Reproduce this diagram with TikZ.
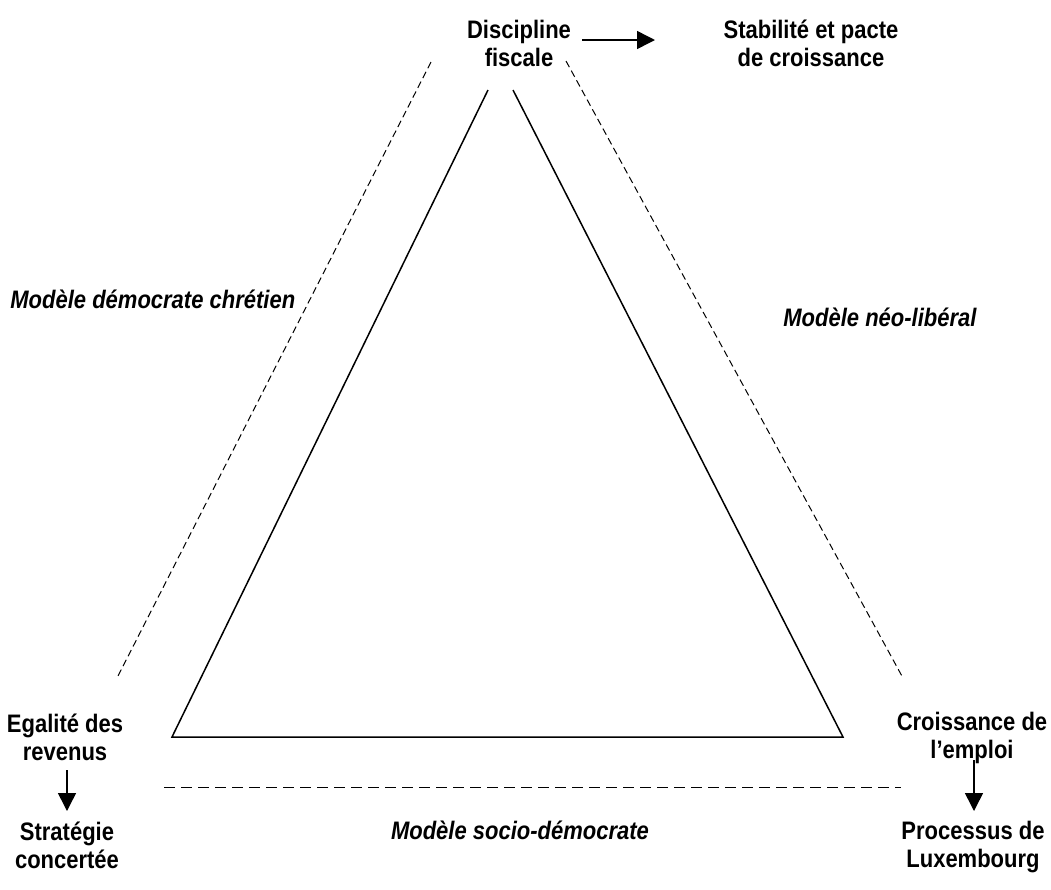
\documentclass[tikz,border=0pt]{standalone}
\usepackage{graphicx}
\usepackage{fontspec}
\setmainfont{Liberation Sans}
\usetikzlibrary{arrows.meta}
\newcommand\stx[1]{\scalebox{1}[1.15]{\begin{tabular}{@{}c@{}}#1\end{tabular}}}
\begin{document}
\begin{tikzpicture}[x=0.5pt,y=-0.5pt,
  lbl/.style={font=\bfseries\fontsize{11pt}{12.2pt}\selectfont,inner sep=0pt},
  model/.style={font=\bfseries\itshape\fontsize{11pt}{12.2pt}\selectfont,inner sep=0pt},
  side/.style={line width=0.75pt},
  dsh/.style={line width=0.5pt,dash pattern=on 3.5pt off 2pt},
  arr/.style={line width=0.75pt,-{Triangle[length=9pt,width=9pt]}}]
\useasboundingbox (0,0) rectangle (1051,890);
% labels
\node[lbl] (disc) at (519,47) {\stx{Discipline\\fiscale}};
\node[lbl] (stab) at (811,47) {\stx{Stabilité et pacte\\de croissance}};
\node[lbl] (egal) at (65,741) {\stx{Egalité des\\revenus}};
\node[lbl] (strat) at (67,849) {\stx{Stratégie\\concertée}};
\node[lbl] (croi) at (972,739) {\stx{Croissance de\\l’emploi}};
\node[lbl] (proc) at (973,848) {\stx{Processus de\\Luxembourg}};
\node[model,anchor=west] (mdc) at (10,303) {\stx{Modèle démocrate chrétien}};
\node[model,anchor=west] (mnl) at (783,321) {\stx{Modèle néo-libéral}};
\node[model] (msd) at (520,834) {\stx{Modèle socio-démocrate}};
% triangle
\coordinate (tl) at (488,90);
\coordinate (tr) at (513,90);
\coordinate (bl) at (172,737);
\coordinate (br) at (843,737);
\draw[side] (tl) -- (bl) -- (br) -- (tr);
% dashed model lines
\coordinate (dl1) at (431,62);
\coordinate (dl2) at (118,676);
\coordinate (dr1) at (566,61);
\coordinate (dr2) at (903,678);
\coordinate (db1) at (164,787);
\coordinate (db2) at (901,787);
\draw[dsh] (dl1) -- (dl2);
\draw[dsh] (dr1) -- (dr2);
\draw[line width=0.5pt,dash pattern=on 5.5pt off 3pt] (db1) -- (db2);
% arrows
\coordinate (a1) at (582,40);
\coordinate (a2) at (655,40);
\draw[arr] (a1) -- (a2);
\coordinate (b1) at (67,770);
\coordinate (b2) at (67,811);
\draw[arr] (b1) -- (b2);
\coordinate (c1) at (974,760);
\coordinate (c2) at (974,811);
\draw[arr] (c1) -- (c2);
\end{tikzpicture}
\end{document}
